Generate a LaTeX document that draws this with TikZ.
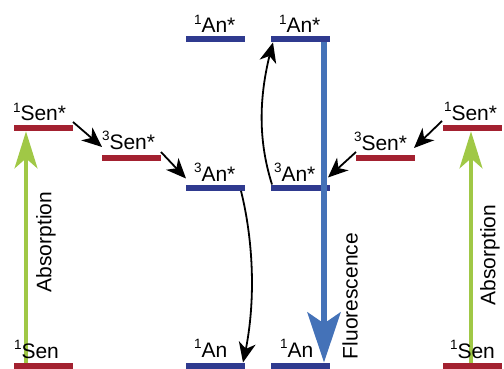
\documentclass[tikz,border=0pt]{standalone}
\usepackage{fontspec}
\setmainfont{Liberation Sans}
\usetikzlibrary{arrows.meta,calc,bending}
\definecolor{senred}{HTML}{A32130}
\definecolor{anblue}{HTML}{2F3A8F}
\definecolor{flublue}{HTML}{4472B8}
\definecolor{absgreen}{HTML}{A0C846}
\newcommand{\lvl}[2]{\raisebox{0.42em}{\fontsize{13.5}{14}\selectfont #1}#2}
\tikzset{
  x=1pt,y=-1pt,
  bar/.style={draw=none,inner sep=0pt,outer sep=0pt,minimum width=59pt,minimum height=6.4pt,anchor=north west},
  senbar/.style={bar,fill=senred},
  anbar/.style={bar,fill=anblue},
  lab/.style={anchor=base west,inner sep=0pt,outer sep=0pt,font=\fontsize{21}{24}\selectfont},
  vlab/.style={rotate=90,inner sep=0pt,outer sep=0pt,font=\fontsize{21}{24}\selectfont},
  blackarrow/.style={draw=black,line width=1.8pt,-{Stealth[length=20pt,width=17pt,inset=6pt]}},
  absarrow/.style={draw=absgreen,line width=3.2pt,-{Stealth[length=37pt,width=23pt,inset=10pt]}},
  fluarrow/.style={draw=flublue,line width=6.5pt,-{Stealth[length=50pt,width=33pt,inset=11pt]}},
}
\begin{document}
\begin{tikzpicture}
\useasboundingbox (0,0) rectangle (504,369);
% levels
\node[senbar] (lsenS) at (14,125) {};
\node[senbar] (lsenT) at (102,155) {};
\node[anbar] (lanT) at (186,184.5) {};
\node[anbar] (lanS) at (186,36) {};
\node[anbar] (ranS) at (271,36) {};
\node[anbar] (ranT) at (271,184.5) {};
\node[senbar] (rsenT) at (356,155) {};
\node[senbar] (rsenS) at (443,125) {};
\node[senbar] (lsenG) at (14,362.5) {};
\node[anbar] (lanG) at (186,362.5) {};
\node[anbar] (ranG) at (271,362.5) {};
\node[senbar] (rsenG) at (443,362.5) {};
% absorption and fluorescence
\draw[absarrow] ([xshift=12pt]lsenG.north west) -- ([xshift=12pt]lsenS.south west);
\draw[absarrow] ([xshift=28pt]rsenG.north west) -- ([xshift=28pt]rsenS.south west);
\draw[fluarrow] ([xshift=53pt]ranS.south west) -- ([xshift=53pt]ranG.north west);
% transfer arrows
\draw[blackarrow] ([yshift=3pt]lsenS.north east) -- ([yshift=8pt]lsenT.north west);
\draw[blackarrow] ([yshift=3pt]lsenT.north east) -- ([yshift=6pt]lanT.north west);
\draw[blackarrow] ([xshift=-4pt]lanT.south east) .. controls (252,235) and (258,300) .. ([xshift=57pt]lanG.north west);
\draw[blackarrow] ([xshift=1pt]ranT.north west) .. controls (258,140) and (258,95) .. ([xshift=2pt]ranS.south west);
\draw[blackarrow] ([shift={(-1pt,4pt)}]rsenS.north west) -- ([shift={(-1pt,7pt)}]rsenT.north east);
\draw[blackarrow] ([yshift=3pt]rsenT.north west) -- ([shift={(-2pt,7pt)}]ranT.north east);
% labels
\node[lab] (t1) at (13,121) {\lvl{1}{Sen*}};
\node[lab] (t2) at (102,149.5) {\lvl{3}{Sen*}};
\node[lab] (t3) at (194,181) {\lvl{3}{An*}};
\node[lab] (t4) at (194,33) {\lvl{1}{An*}};
\node[lab] (t5) at (279,33) {\lvl{1}{An*}};
\node[lab] (t6) at (274,181) {\lvl{3}{An*}};
\node[lab] (t7) at (354,150) {\lvl{3}{Sen*}};
\node[lab] (t8) at (444,120.5) {\lvl{1}{Sen*}};
\node[lab] (t9) at (14,358) {\lvl{1}{Sen}};
\node[lab] (t10) at (194,357.5) {\lvl{1}{An}};
\node[lab] (t11) at (280,357.5) {\lvl{1}{An}};
\node[lab] (t12) at (450,358) {\lvl{1}{Sen}};
\node[vlab] (a1) at (46,242) {Absorption};
\node[vlab] (f1) at (350,296) {Fluorescence};
\node[vlab] (a2) at (490,255) {Absorption};
\end{tikzpicture}
\end{document}
